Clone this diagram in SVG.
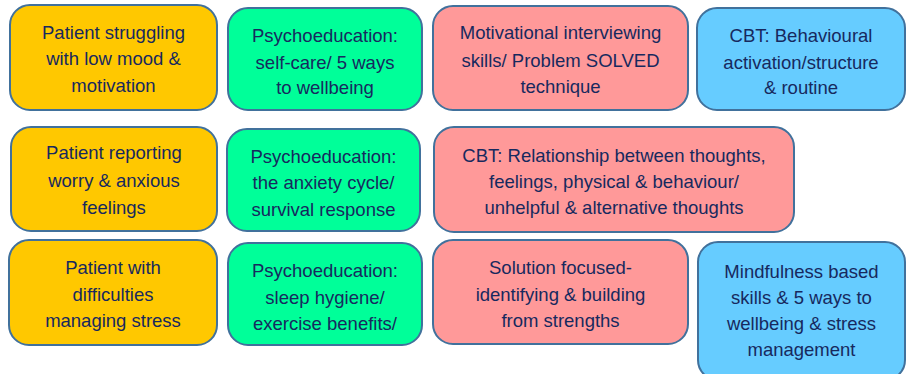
<svg xmlns="http://www.w3.org/2000/svg" width="911" height="374" viewBox="0 0 911 374">
  <style>
    .box { stroke: #41719c; stroke-width: 2; }
    .pt { fill: #ffc800; }
    .pe { fill: #00ff99; }
    .tx { fill: #ff9999; }
    .cb { fill: #66ccff; }
    text { font-family: "Liberation Sans", Arial, sans-serif; font-size: 18.5px; fill: #17295e; text-anchor: middle; }
  </style>
  <rect width="911" height="374" fill="#ffffff"/>

  <!-- Row 1: low mood -->
  <g id="patient-low-mood">
    <rect class="box pt" x="10" y="5" width="207" height="105" rx="20"/>
    <text x="113.5" y="39">Patient struggling</text>
    <text x="113.5" y="65">with low mood &amp;</text>
    <text x="113.5" y="92">motivation</text>
  </g>
  <g id="psychoed-self-care">
    <rect class="box pe" x="228" y="8" width="194" height="102" rx="20"/>
    <text x="325" y="42">Psychoeducation:</text>
    <text x="325" y="69">self-care/ 5 ways</text>
    <text x="325" y="94">to wellbeing</text>
  </g>
  <g id="motivational-interviewing">
    <rect class="box tx" x="433" y="6" width="255" height="104" rx="20"/>
    <text x="560.5" y="39">Motivational interviewing</text>
    <text x="560.5" y="67">skills/ Problem SOLVED</text>
    <text x="560.5" y="93">technique</text>
  </g>
  <g id="cbt-behavioural-activation">
    <rect class="box cb" x="697" y="8" width="208" height="102" rx="20"/>
    <text x="801" y="42">CBT: Behavioural</text>
    <text x="801" y="69">activation/structure</text>
    <text x="801" y="94">&amp; routine</text>
  </g>

  <!-- Row 2: worry and anxiety -->
  <g id="patient-worry">
    <rect class="box pt" x="11" y="127" width="206" height="104" rx="20"/>
    <text x="114" y="159">Patient reporting</text>
    <text x="114" y="187">worry &amp; anxious</text>
    <text x="114" y="214">feelings</text>
  </g>
  <g id="psychoed-anxiety-cycle">
    <rect class="box pe" x="227" y="129" width="193" height="102" rx="20"/>
    <text x="323.5" y="163">Psychoeducation:</text>
    <text x="323.5" y="189">the anxiety cycle/</text>
    <text x="323.5" y="216">survival response</text>
  </g>
  <g id="cbt-thoughts-feelings">
    <rect class="box tx" x="434" y="127" width="360" height="105" rx="20"/>
    <text x="614" y="162">CBT: Relationship between thoughts,</text>
    <text x="614" y="188">feelings, physical &amp; behaviour/</text>
    <text x="614" y="214">unhelpful &amp; alternative thoughts</text>
  </g>

  <!-- Row 3: stress -->
  <g id="patient-stress">
    <rect class="box pt" x="9" y="240" width="208" height="105" rx="20"/>
    <text x="113" y="274">Patient with</text>
    <text x="113" y="301">difficulties</text>
    <text x="113" y="327">managing stress</text>
  </g>
  <g id="psychoed-sleep-exercise">
    <rect class="box pe" x="228" y="243" width="194" height="102" rx="20"/>
    <text x="325" y="277">Psychoeducation:</text>
    <text x="325" y="304">sleep hygiene/</text>
    <text x="325" y="330">exercise benefits/</text>
  </g>
  <g id="solution-focused">
    <rect class="box tx" x="433" y="240" width="255" height="104" rx="20"/>
    <text x="560.5" y="274">Solution focused-</text>
    <text x="560.5" y="301">identifying &amp; building</text>
    <text x="560.5" y="327">from strengths</text>
  </g>
  <g id="mindfulness-skills">
    <rect class="box cb" x="698" y="242" width="207" height="138" rx="20"/>
    <text x="801.5" y="278">Mindfulness based</text>
    <text x="801.5" y="304">skills &amp; 5 ways to</text>
    <text x="801.5" y="330">wellbeing &amp; stress</text>
    <text x="801.5" y="356">management</text>
  </g>

  <g id="connectors"/>
</svg>
